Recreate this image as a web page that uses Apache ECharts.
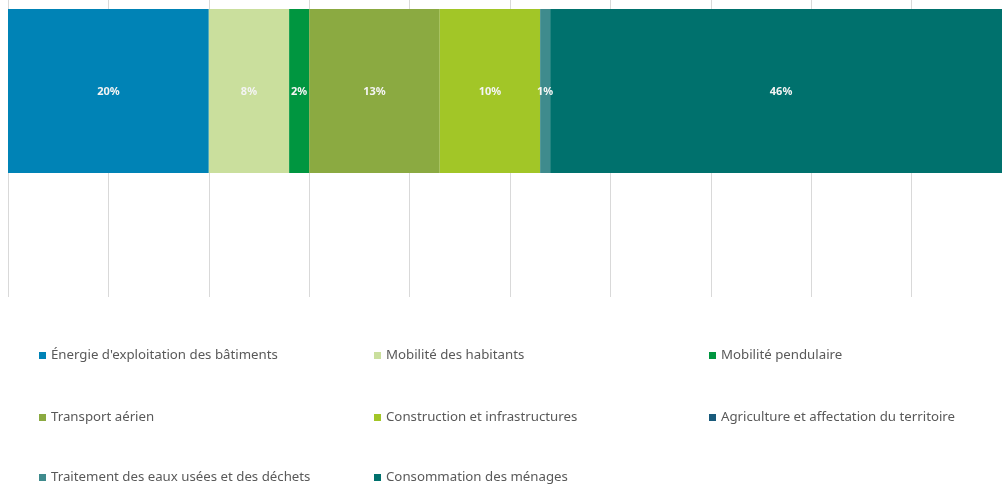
<!DOCTYPE html>
<html>
<head>
<meta charset="utf-8">
<script src="https://cdn.jsdelivr.net/npm/echarts@6/dist/echarts.min.js"></script>
<style>
  html, body { margin: 0; padding: 0; background: #ffffff; }
  #chart { width: 1002px; height: 486px; }
</style>
</head>
<body>
<div id="chart"></div>
<script>
// Emission shares by sector (%), one stacked bar
const sectors = [
  "Énergie d'exploitation des bâtiments",
  "Mobilité des habitants",
  "Mobilité pendulaire",
  "Transport aérien",
  "Construction et infrastructures",
  "Agriculture et affectation du territoire",
  "Traitement des eaux usées et des déchets",
  "Consommation des ménages"
];
const shares = [20, 8, 2, 13, 10, 0, 1, 46];
const sectorColors = [
  '#0083B6', '#CADF9D', '#009640', '#8BAA41',
  '#A2C627', '#195A7B', '#3F8B8D', '#00716D'
];
const axisTicks = [0, 10, 20, 30, 40, 50, 60, 70, 80, 90, 100];

// Legend cells: [column, row] for each sector
const legendCell = [[0, 0], [1, 0], [2, 0], [0, 1], [1, 1], [2, 1], [0, 2], [1, 2]];
const legendColX = [39, 374, 709];
const legendRowY = [349, 411, 471];

const chart = echarts.init(document.getElementById('chart'), null, { renderer: 'canvas' });

const series = sectors.map((name, i) => ({
  name: name,
  type: 'bar',
  stack: 'total',
  xAxisIndex: 1,
  yAxisIndex: 1,
  barWidth: '100%',
  itemStyle: { color: sectorColors[i] },
  label: {
    show: true,
    position: 'inside',
    offset: [0, 1],
    color: '#F4F4F4',
    fontFamily: 'Noto Sans',
    fontSize: 11,
    fontWeight: 'bold',
    formatter: p => (p.value > 0 ? p.value + '%' : '')
  },
  data: [shares[i]]
}));

const valueAxisBase = {
  type: 'value',
  min: axisTicks[0],
  max: axisTicks[axisTicks.length - 1],
  interval: axisTicks[1] - axisTicks[0],
  axisLabel: { show: false },
  axisLine: { show: false },
  axisTick: { show: false }
};

// plot runs past the right edge of the canvas
const plotLeft = 8;
const plotWidth = 1004;

chart.setOption({
  animation: false,
  backgroundColor: '#ffffff',
  grid: [
    // background grid carrying the vertical gridlines
    { left: plotLeft, width: plotWidth, top: 0, height: 297, outerBoundsMode: 'none', containLabel: false },
    // bar grid
    { left: plotLeft, width: plotWidth, top: 9, height: 164, outerBoundsMode: 'none', containLabel: false }
  ],
  xAxis: [
    Object.assign({}, valueAxisBase, {
      gridIndex: 0,
      splitLine: { show: true, lineStyle: { color: '#D9D9D9', width: 1 } }
    }),
    Object.assign({}, valueAxisBase, {
      gridIndex: 1,
      splitLine: { show: false }
    })
  ],
  yAxis: [
    { type: 'category', gridIndex: 0, data: [''], show: false },
    { type: 'category', gridIndex: 1, data: [''], show: false }
  ],
  legend: sectors.map((name, i) => ({
    orient: 'horizontal',
    left: legendColX[legendCell[i][0]],
    top: legendRowY[legendCell[i][1]],
    padding: 0,
    itemWidth: 7,
    itemHeight: 7,
    icon: 'rect',
    selectedMode: false,
    data: [name],
    textStyle: { color: '#595959', fontFamily: 'Noto Sans', fontSize: 13.25 }
  })),
  series: series
});
</script>
</body>
</html>
